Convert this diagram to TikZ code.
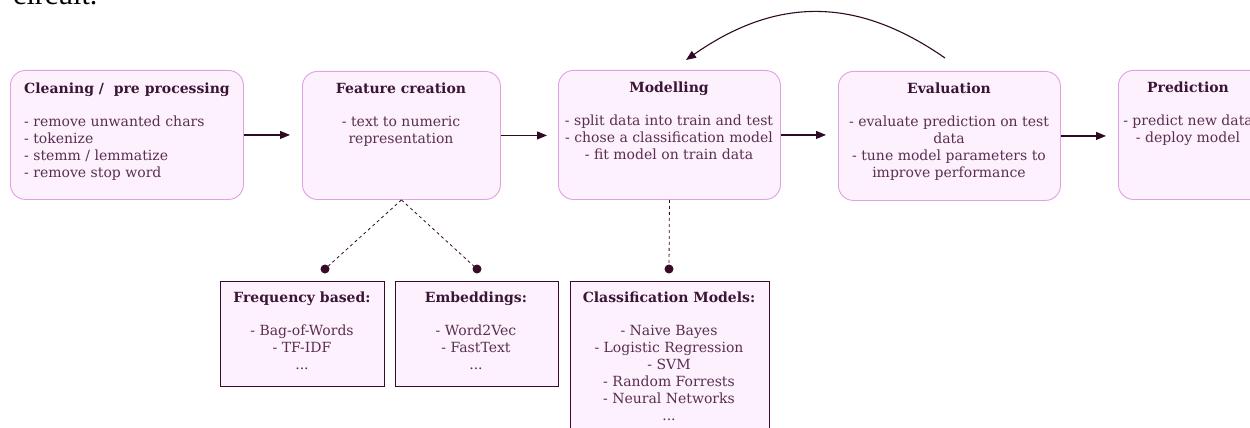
\documentclass[tikz,border=0pt]{standalone}
\usepackage{fontspec}
\setmainfont{DejaVu Serif}
\newfontfamily\circfont{Liberation Serif}
\usetikzlibrary{arrows.meta}
\definecolor{boxfill}{HTML}{FDF1FD}
\definecolor{boxdraw}{HTML}{E0A0E4}
\definecolor{titlec}{HTML}{3B1535}
\definecolor{bodyc}{HTML}{5A2E50}
\definecolor{arrc}{HTML}{2E0A24}
\definecolor{lowdraw}{HTML}{3A0A2A}
\newcommand{\ttlfont}{\fontsize{14}{17}\selectfont\bfseries\color{titlec}}
\tikzset{
  stage/.style={draw=boxdraw, fill=boxfill, line width=0.9pt, rounded corners=15pt, inner sep=0pt},
  lowbox/.style={draw=lowdraw, fill=boxfill, line width=1.3pt, inner sep=0pt},
  txt/.style={text=bodyc, font=\fontsize{14}{17}\selectfont, align=center, inner sep=0pt},
  flow/.style={draw=arrc, line width=1.1pt, -{Triangle[length=10pt,width=8pt]}},
  dashlink/.style={draw=lowdraw, line width=0.8pt, dash pattern=on 3pt off 3pt},
  dotnode/.style={circle, fill=lowdraw, inner sep=0pt, minimum size=9pt},
}
\begin{document}
\begin{tikzpicture}[x=1pt,y=-1pt]
\clip (0,0) rectangle (1250,428);
\fill[white] (0,0) rectangle (1250,428);
\node[anchor=base west, inner sep=0pt, font=\circfont\fontsize{30}{32}\selectfont] (circ) at (13,5) {circuit.};

% stage boxes
\node[stage, minimum width=233pt, minimum height=129pt, anchor=north west] (b1) at (10,70) {};
\node[stage, minimum width=198pt, minimum height=128pt, anchor=north west] (b2) at (302,71) {};
\node[stage, minimum width=222pt, minimum height=129pt, anchor=north west] (b3) at (558,70) {};
\node[stage, minimum width=222pt, minimum height=129pt, anchor=north west] (b4) at (838,71) {};
\node[stage, minimum width=150pt, minimum height=129pt, anchor=north west] (b5) at (1118,70) {};

% texts
\node[txt, align=left, anchor=north west] (t1) at (24,83) {{\ttlfont Cleaning /\ \ pre processing}\\[16pt]- remove unwanted chars\\- tokenize\\- stemm / lemmatize\\- remove stop word};
\node[txt, anchor=north] (t2) at (401,83) {{\ttlfont Feature creation}\\[16pt]- text to numeric\\representation};
\node[txt, anchor=north] (t3) at (669,82) {{\ttlfont Modelling}\\[16pt]- split data into train and test\\- chose a classification model\\- fit model on train data};
\node[txt, anchor=north] (t4) at (949,83) {{\ttlfont Evaluation}\\[16pt]- evaluate prediction on test\\data\\- tune model parameters to\\improve performance};
\node[txt, anchor=north] (t5) at (1188,82) {{\ttlfont Prediction}\\[16pt]- predict new data\\- deploy model};

% flow arrows
\draw[flow] (b1.east) -- ([xshift=-12pt]b1.east -| b2.west);
\draw[flow] (b2.east) -- ([xshift=-11pt]b2.east -| b3.west);
\draw[flow] (b3.east) -- ([xshift=-12pt]b3.east -| b4.west);
\draw[flow] (b4.east) -- ([xshift=-12pt]b4.east -| b5.west);

% feedback loop
\coordinate (ls) at (945,58);
\coordinate (le) at (686,60);
\draw[flow] (ls) .. controls (856,-4) and (776,-3) .. (le);

% lower boxes
\node[lowbox, minimum width=164pt, minimum height=105pt, anchor=north west] (l1) at (220,281) {};
\node[lowbox, minimum width=163pt, minimum height=105pt, anchor=north west] (l2) at (395,281) {};
\node[lowbox, minimum width=199pt, minimum height=170pt, anchor=north west] (l3) at (570,281) {};

\node[txt, anchor=north] (u1) at (302,292) {{\ttlfont Frequency based:}\\[16pt]- Bag-of-Words\\- TF-IDF\\...};
\node[txt, anchor=north] (u2) at (476,292) {{\ttlfont Embeddings:}\\[16pt]- Word2Vec\\- FastText\\...};
\node[txt, anchor=north] (u3) at (669,292) {{\ttlfont Classification Models:}\\[16pt]- Naive Bayes\\- Logistic Regression\\- SVM\\- Random Forrests\\- Neural Networks\\...};

% dots and dashed links
\node[dotnode] (d1) at (325,269) {};
\node[dotnode] (d2) at (477,269) {};
\node[dotnode] (d3) at (669,269) {};
\draw[dashlink] (b2.south) -- (d1.center);
\draw[dashlink] (b2.south) -- (d2.center);
\draw[dashlink] (b3.south) -- (d3.center);
\end{tikzpicture}
\end{document}
